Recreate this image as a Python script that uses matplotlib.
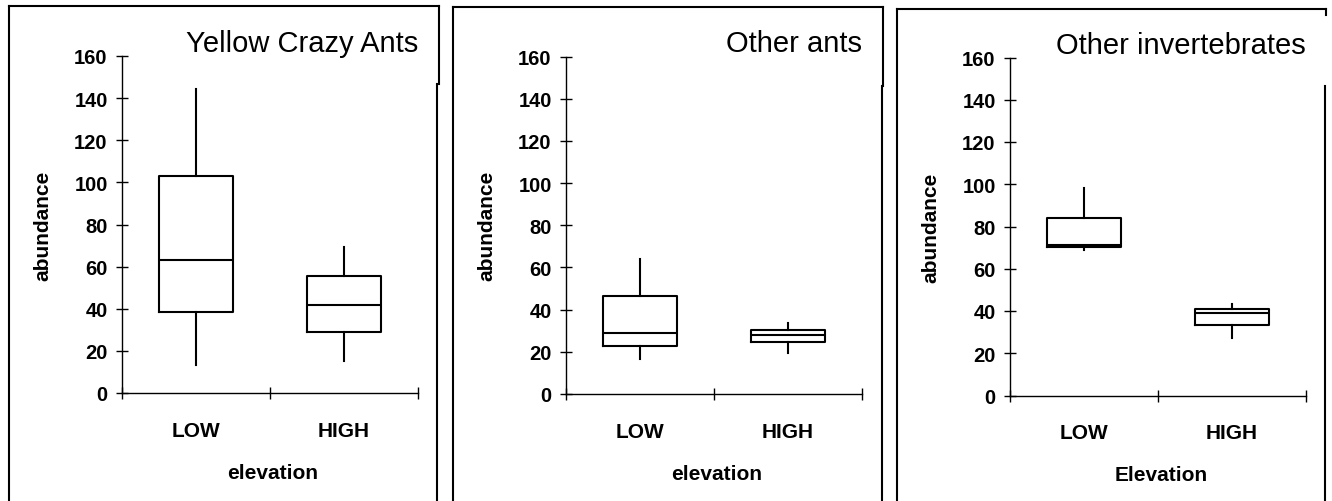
import matplotlib
matplotlib.use("Agg")
import matplotlib.pyplot as plt
from matplotlib.lines import Line2D

plt.rcParams['font.family'] = ['Liberation Sans', 'DejaVu Sans']

# data (box stats per group)
groups = ['LOW', 'HIGH']
titles = ['Yellow Crazy Ants', 'Other ants', 'Other invertebrates']
xlabels = ['elevation', 'elevation', 'Elevation']

yca_whislo = [13.5, 15.0]
yca_q1 = [38.6, 29.1]
yca_med = [63.0, 41.9]
yca_q3 = [103.2, 55.5]
yca_whishi = [144.3, 69.2]

oa_whislo = [16.6, 19.4]
oa_q1 = [22.7, 24.5]
oa_med = [28.9, 28.1]
oa_q3 = [46.3, 30.3]
oa_whishi = [64.0, 33.6]

oi_whislo = [69.0, 27.3]
oi_q1 = [70.2, 33.6]
oi_med = [71.4, 39.1]
oi_q3 = [84.2, 41.0]
oi_whishi = [98.1, 43.4]

panels = [
    (yca_whislo, yca_q1, yca_med, yca_q3, yca_whishi),
    (oa_whislo, oa_q1, oa_med, oa_q3, oa_whishi),
    (oi_whislo, oi_q1, oi_med, oi_q3, oi_whishi),
]

W, H = 1332, 502
fig = plt.figure(figsize=(W / 100, H / 100), dpi=100)

# axes boxes in pixels: left, y of 160, y of 0
ax_px = [(122, 57, 394), (566, 57.5, 395), (1010, 58.5, 396.5)]
ax_w = 296

for i, (left, ytop, ybot) in enumerate(ax_px):
    ax = fig.add_axes([left / W, 1 - ybot / H, ax_w / W, (ybot - ytop) / H])
    lo, q1, med, q3, hi = panels[i]
    stats = []
    for j in range(len(groups)):
        stats.append({'whislo': lo[j], 'q1': q1[j], 'med': med[j],
                      'q3': q3[j], 'whishi': hi[j], 'fliers': []})
    lw = 1.5
    ax.bxp(stats, positions=[0.5, 1.5], widths=0.5, showcaps=False,
           showfliers=False, patch_artist=False,
           boxprops=dict(color='black', linewidth=lw),
           whiskerprops=dict(color='black', linewidth=lw),
           medianprops=dict(color='black', linewidth=lw))
    ax.set_xlim(0, 2)
    ax.set_ylim(0, 160)
    ax.set_yticks(range(0, 161, 20))
    ax.set_xticks([0, 1, 2])
    ax.set_xticklabels(['', '', ''])
    ax.set_xticks([0.5, 1.5], minor=True)
    ax.set_xticklabels(groups, minor=True, fontsize=15, fontweight='bold')
    ax.tick_params(axis='x', which='minor', length=0, pad=20)
    ax.tick_params(axis='both', which='major', direction='inout', length=8.6,
                   width=1.0, labelsize=14.5)
    ax.tick_params(axis='y', pad=6)
    for lab in ax.get_yticklabels():
        lab.set_fontweight('bold')
    for s in ['top', 'right']:
        ax.spines[s].set_visible(False)
    for s in ['left', 'bottom']:
        ax.spines[s].set_linewidth(1.0)
    ax.annotate(titles[i], xy=(1, 1), xycoords='axes fraction',
                xytext=(0, 3.6), textcoords='offset points',
                ha='right', va='baseline', fontsize=21)
    ax.annotate(xlabels[i], xy=(0.5, 0), xycoords='axes fraction',
                xytext=(2, -57), textcoords='offset points',
                ha='center', va='center', fontsize=15, fontweight='bold')
    ax.annotate('abundance', xy=(0, 0.5), xycoords='axes fraction',
                xytext=(-57, 0), textcoords='offset points',
                ha='center', va='center', rotation=90, fontsize=15,
                fontweight='bold')

# panel frames (pixel segments)
frames = [
    [(9, 7, 9, 502), (9, 7, 439, 7), (439, 7, 439, 85), (437, 85, 437, 502)],
    [(453, 8, 453, 502), (453, 8, 883, 8), (883, 8, 883, 87), (882, 87, 882, 502)],
    [(897, 10, 897, 502), (897, 10, 1326, 10), (1326, 10, 1326, 16),
     (1325, 87, 1325, 502)],
]
for fr in frames:
    for x0, y0, x1, y1 in fr:
        fig.add_artist(Line2D([x0 / W, x1 / W], [1 - y0 / H, 1 - y1 / H],
                              transform=fig.transFigure, color='black',
                              linewidth=1.5))

fig.savefig('out.png', dpi=100)
